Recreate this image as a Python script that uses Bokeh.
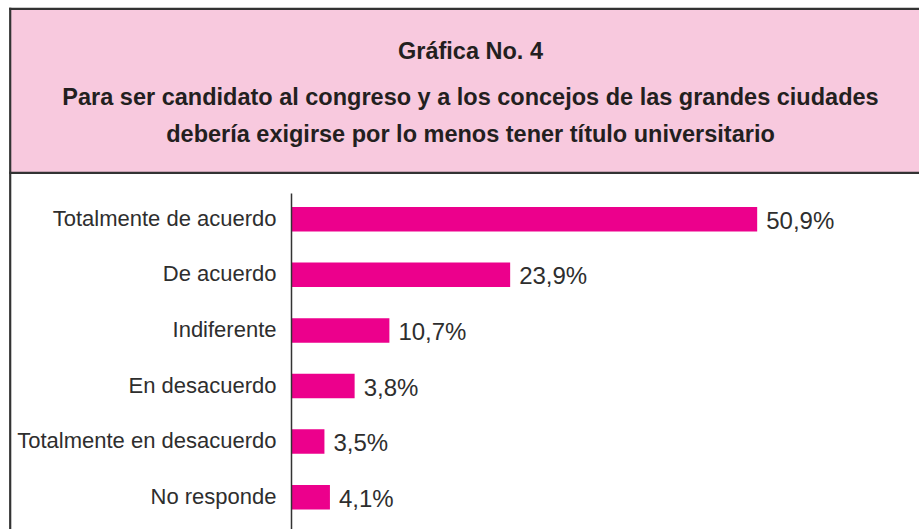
from bokeh.plotting import figure
from bokeh.models import Range1d
from bokeh.core.properties import value
from bokeh.embed import file_html
from bokeh.resources import INLINE

# ---- data ----
title_lines = [
    "Gráfica No. 4",
    "Para ser candidato al congreso y a los concejos de las grandes ciudades",
    "debería exigirse por lo menos tener título universitario",
]
categories = [
    "Totalmente de acuerdo",
    "De acuerdo",
    "Indiferente",
    "En desacuerdo",
    "Totalmente en desacuerdo",
    "No responde",
]
percent_values = [50.9, 23.9, 10.7, 3.8, 3.5, 4.1]      # printed values
bar_lengths = [50.9, 23.9, 10.7, 6.9, 3.6, 4.2]         # bar lengths as drawn
value_labels = [f"{v:.1f}".replace(".", ",") + "%" for v in percent_values]
rows = list(range(len(categories)))

# ---- layout constants (page pixels) ----
W, H = 919, 529
AXIS_PX = 291.0      # x pixel of the value axis (0 %)
PX_PER_PCT = 9.149
ROW0_PX = 218.7      # y pixel of first row centre
ROW_PX = 55.6

def dx(px):
    return (px - AXIS_PX) / PX_PER_PCT

def dy(py):
    return (py - ROW0_PX) / ROW_PX

PINK = "#F8C9DE"
MAGENTA = "#EC008C"
DARK = "#2E2E2E"
BORDER = "#333333"
FONT = value("Liberation Sans")

p = figure(width=W, height=H, output_backend="svg", toolbar_location=None,
           x_range=Range1d(dx(0), dx(W)), y_range=Range1d(dy(H), dy(0)),
           x_axis_location=None, y_axis_location=None, min_border=0,
           outline_line_color=None, background_fill_color="white",
           border_fill_color="white")
p.xgrid.visible = False
p.ygrid.visible = False

# header panel
p.quad(left=dx(10), right=dx(W + 20), top=dy(9), bottom=dy(172),
       fill_color=PINK, line_color=None)
p.segment(x0=[dx(8.6), dx(9.7), dx(8.6)], y0=[dy(8.3), dy(7.3), dy(172.4)],
          x1=[dx(W + 20), dx(9.7), dx(W + 20)], y1=[dy(8.3), dy(H + 5), dy(172.4)],
          line_color=BORDER, line_width=2.2)

# title
p.text(x=[dx(470)] * 3, y=[dy(50), dy(96), dy(133)], text=title_lines,
       text_align="center", text_baseline="middle", text_font=FONT,
       text_font_style="bold", text_font_size="23.5px", text_color="#231F20")

# bars
p.hbar(y=rows, left=0, right=bar_lengths, height=0.44,
       fill_color=MAGENTA, line_color=None)

# value axis line
p.segment(x0=[0], y0=[dy(193)], x1=[0], y1=[dy(H + 5)],
          line_color=BORDER, line_width=1.5)

# category labels
p.text(x=[0] * len(rows), y=rows, text=categories, x_offset=-15, y_offset=-1,
       text_align="right", text_baseline="middle", text_font=FONT,
       text_font_size="22px", text_color=DARK)

# value labels
p.text(x=bar_lengths, y=rows, text=value_labels, x_offset=9, y_offset=1,
       text_align="left", text_baseline="middle", text_font=FONT,
       text_font_size="24px", text_color=DARK)

open("out.html", "w").write(file_html(p, INLINE))
